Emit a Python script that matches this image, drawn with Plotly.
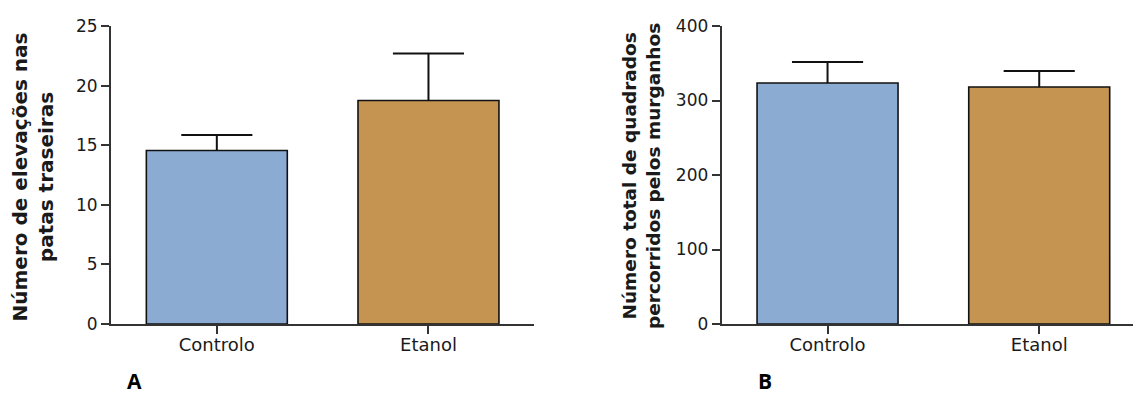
import plotly.graph_objects as go

# Groups and summary statistics (mean + SEM) for both panels
categories = ["Controlo", "Etanol"]

rearing_mean = [14.55, 18.75]
rearing_sem = [1.30, 3.95]

squares_mean = [323.5, 318.2]
squares_sem = [28.3, 21.4]

bar_colors = ["#8CABD3", "#C49450"]

yticks_a = [0, 5, 10, 15, 20, 25]
yticks_b = [0, 100, 200, 300, 400]

title_a = "Número de elevações nas<br>patas traseiras"
title_b = "Número total de quadrados<br>percorridos pelos murganhos"

W, H = 1133, 396
M_TOP, M_BOT = 26, 72
PLOT_H = H - M_TOP - M_BOT

TEXT = "#1a1a1a"
AXIS = "#333333"
INK = "#111111"
tick_font = dict(family="DejaVu Sans, sans-serif", size=17, color=TEXT)
cat_font = dict(family="DejaVu Sans, sans-serif", size=18, color=TEXT)
title_font_a = dict(family="DejaVu Sans, sans-serif", size=20, color=TEXT)
title_font_b = dict(family="DejaVu Sans, sans-serif", size=18.5, color=TEXT)
panel_font = dict(family="Open Sans, sans-serif", size=21, color="#000000")

BAR_WIDTH = 0.666
CAP_HALF = 0.168  # half-width of the error-bar cap, in category units
xpos = list(range(len(categories)))


def py_to_paper(py):
    """Convert a pixel row (from the top of the page) to paper y."""
    return (H - M_BOT - py) / PLOT_H


def bar_trace(means, xa, ya):
    return go.Bar(
        x=xpos,
        y=means,
        width=BAR_WIDTH,
        marker=dict(color=bar_colors, line=dict(color=INK, width=1.6)),
        xaxis=xa,
        yaxis=ya,
        showlegend=False,
        hoverinfo="skip",
    )


def sem_trace(means, sems, xa, ya):
    # Upper-only error bars: a stem from the bar top plus a horizontal cap
    xs, ys = [], []
    for i, (m, s) in enumerate(zip(means, sems)):
        top = m + s
        xs += [i, i, None, i - CAP_HALF, i + CAP_HALF, None]
        ys += [m, top, None, top, top, None]
    return go.Scatter(
        x=xs,
        y=ys,
        mode="lines",
        line=dict(color=INK, width=2),
        xaxis=xa,
        yaxis=ya,
        showlegend=False,
        hoverinfo="skip",
        cliponaxis=False,
    )


fig = go.Figure()
fig.add_trace(bar_trace(rearing_mean, "x", "y"))
fig.add_trace(sem_trace(rearing_mean, rearing_sem, "x", "y"))
fig.add_trace(bar_trace(squares_mean, "x2", "y2"))
fig.add_trace(sem_trace(squares_mean, squares_sem, "x2", "y2"))

common_x = dict(
    showgrid=False,
    zeroline=False,
    showline=True,
    linecolor=AXIS,
    linewidth=2,
    ticks="outside",
    ticklen=8,
    tickwidth=1.5,
    tickcolor=AXIS,
    tickfont=cat_font,
    tickvals=xpos,
    ticktext=categories,
    ticklabelstandoff=-5,
    fixedrange=True,
)
common_y = dict(
    showgrid=False,
    zeroline=False,
    showline=True,
    linecolor=AXIS,
    linewidth=2,
    ticks="outside",
    ticklen=8,
    tickwidth=1.5,
    tickcolor=AXIS,
    tickfont=tick_font,
    fixedrange=True,
)

fig.update_layout(
    width=W,
    height=H,
    margin=dict(l=0, r=0, t=M_TOP, b=M_BOT),
    paper_bgcolor="white",
    plot_bgcolor="white",
    xaxis=dict(common_x, domain=[111 / W, 534.3 / W], range=[-0.5, 1.5], anchor="y"),
    yaxis=dict(common_y, range=[0, 25], tickvals=yticks_a, anchor="x"),
    xaxis2=dict(common_x, domain=[721.7 / W, 1.0], range=[-0.5, 1.443], anchor="y2"),
    yaxis2=dict(common_y, range=[0, 400], tickvals=yticks_b, anchor="x2"),
    annotations=[
        dict(text="<b>" + title_a + "</b>", x=32.5 / W, y=py_to_paper(177), xref="paper", yref="paper",
             textangle=-90, showarrow=False, font=title_font_a, xanchor="center", yanchor="middle"),
        dict(text="<b>" + title_b + "</b>", x=641 / W, y=py_to_paper(176), xref="paper", yref="paper",
             textangle=-90, showarrow=False, font=title_font_b, xanchor="center", yanchor="middle"),
        dict(text="<b>A</b>", x=134 / W, y=py_to_paper(381), xref="paper", yref="paper",
             yanchor="middle", xanchor="center", showarrow=False, font=panel_font),
        dict(text="<b>B</b>", x=765 / W, y=py_to_paper(381), xref="paper", yref="paper",
             yanchor="middle", xanchor="center", showarrow=False, font=panel_font),
    ],
)

fig.write_html("out.html")
